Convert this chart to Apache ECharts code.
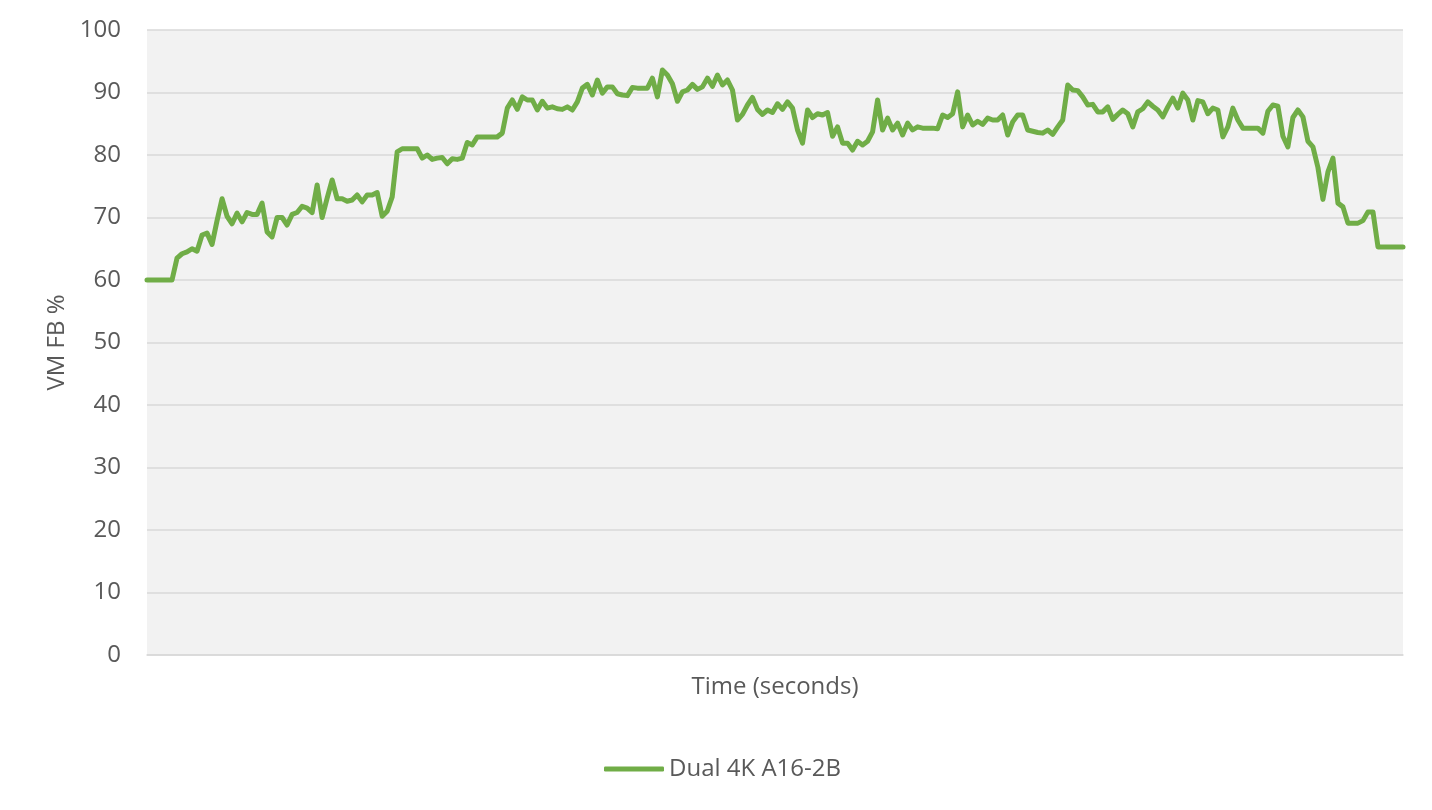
<!DOCTYPE html>
<html>
<head>
<meta charset="utf-8">
<script src="https://cdn.jsdelivr.net/npm/echarts@6/dist/echarts.min.js"></script>
<style>
html,body{margin:0;padding:0;background:#fff;}
#chart{width:1432px;height:810px;}
</style>
</head>
<body>
<div id="chart"></div>
<script>
const seriesName = "Dual 4K A16-2B";
const yAxisName = "VM FB %";
const xAxisName = "Time (seconds)";
const yTicks = [0, 10, 20, 30, 40, 50, 60, 70, 80, 90, 100];
const values = [
  60, 60, 60, 60, 60, 60, 63.5, 64.2, 64.5, 65,
  64.6, 67.2, 67.5, 65.7, 69.5, 73, 70.2, 69, 70.7, 69.3,
  70.8, 70.5, 70.5, 72.3, 67.7, 66.9, 70, 70, 68.8, 70.5,
  70.8, 71.8, 71.5, 70.8, 75.2, 70, 73.1, 76, 73, 73,
  72.6, 72.8, 73.6, 72.5, 73.6, 73.6, 74, 70.2, 71, 73.3,
  80.5, 81, 81, 81, 81, 79.5, 80, 79.3, 79.5, 79.6,
  78.6, 79.4, 79.3, 79.5, 82, 81.6, 82.9, 82.9, 82.9, 82.9,
  82.9, 83.5, 87.5, 88.8, 87.3, 89.3, 88.8, 88.8, 87.2, 88.6,
  87.5, 87.7, 87.4, 87.3, 87.7, 87.2, 88.5, 90.7, 91.3, 89.6,
  92, 89.9, 90.9, 90.9, 89.8, 89.6, 89.5, 90.8, 90.7, 90.7,
  90.7, 92.3, 89.3, 93.6, 92.8, 91.4, 88.6, 90.1, 90.4, 91.3,
  90.5, 90.9, 92.3, 91, 92.8, 91.2, 92, 90.4, 85.6, 86.5,
  88, 89.2, 87.3, 86.5, 87.2, 86.8, 88.2, 87.3, 88.5, 87.5,
  84, 81.9, 87.2, 86, 86.6, 86.4, 86.8, 83, 84.5, 81.9,
  81.9, 80.8, 82.2, 81.6, 82.2, 83.7, 88.8, 84, 85.9, 84,
  85.1, 83.2, 85.1, 84, 84.5, 84.3, 84.3, 84.3, 84.2, 86.4,
  86, 86.6, 90.1, 84.5, 86.4, 84.8, 85.4, 84.9, 85.9, 85.6,
  85.6, 86.4, 83.2, 85.3, 86.4, 86.4, 84, 83.8, 83.6, 83.5,
  84, 83.3, 84.5, 85.6, 91.2, 90.4, 90.3, 89.3, 88, 88.1,
  86.9, 86.9, 87.7, 85.7, 86.5, 87.2, 86.6, 84.5, 86.9, 87.4,
  88.5, 87.8, 87.2, 86.1, 87.7, 89.1, 87.5, 89.9, 88.8, 85.6,
  88.7, 88.5, 86.6, 87.5, 87.2, 82.9, 84.5, 87.5, 85.6, 84.3,
  84.3, 84.3, 84.3, 83.5, 87, 88, 87.8, 83, 81.3, 86,
  87.2, 86.1, 82.2, 81.3, 78, 72.9, 77.3, 79.5, 72.3, 71.7,
  69.1, 69.1, 69.1, 69.5, 70.9, 70.9, 65.3, 65.3, 65.3, 65.3,
  65.3, 65.3
];
const categories = values.map((_, i) => String(i + 1));

const chart = echarts.init(document.getElementById('chart'), null, {renderer: 'canvas'});
const font = "'Open Sans', 'DejaVu Sans', sans-serif";
chart.setOption({
  animation: false,
  backgroundColor: '#ffffff',
  grid: {
    left: 147, right: 29, top: 30, bottom: 155,
    show: true, backgroundColor: '#f2f2f2', borderWidth: 0,
    containLabel: false
  },
  legend: {
    bottom: 24,
    left: 599,
    data: [seriesName],
    icon: 'roundRect',
    itemWidth: 60,
    itemHeight: 5,
    itemGap: 10,
    textStyle: {color: '#595959', fontSize: 24, fontFamily: font}
  },
  xAxis: {
    type: 'category',
    data: categories,
    boundaryGap: false,
    name: xAxisName,
    nameLocation: 'middle',
    nameGap: 20,
    nameTextStyle: {color: '#595959', fontSize: 24, fontFamily: font, verticalAlign: 'top'},
    axisLine: {show: true, lineStyle: {color: '#d9d9d9', width: 1.5}},
    axisTick: {show: false},
    axisLabel: {show: false},
    splitLine: {show: false}
  },
  yAxis: {
    type: 'value',
    min: yTicks[0],
    max: yTicks[yTicks.length - 1],
    interval: 10,
    name: yAxisName,
    nameLocation: 'middle',
    nameGap: 76,
    nameRotate: 90,
    nameTextStyle: {color: '#595959', fontSize: 24, fontFamily: font},
    axisLine: {show: false},
    axisTick: {show: false},
    axisLabel: {color: '#595959', fontSize: 24, fontFamily: font, margin: 26},
    splitLine: {show: true, lineStyle: {color: '#d9d9d9', width: 1.5}}
  },
  series: [{
    name: seriesName,
    type: 'line',
    data: values,
    symbol: 'none',
    lineStyle: {color: '#70ad47', width: 5, join: 'round', cap: 'round'},
    itemStyle: {color: '#70ad47'}
  }]
});
</script>
</body>
</html>
